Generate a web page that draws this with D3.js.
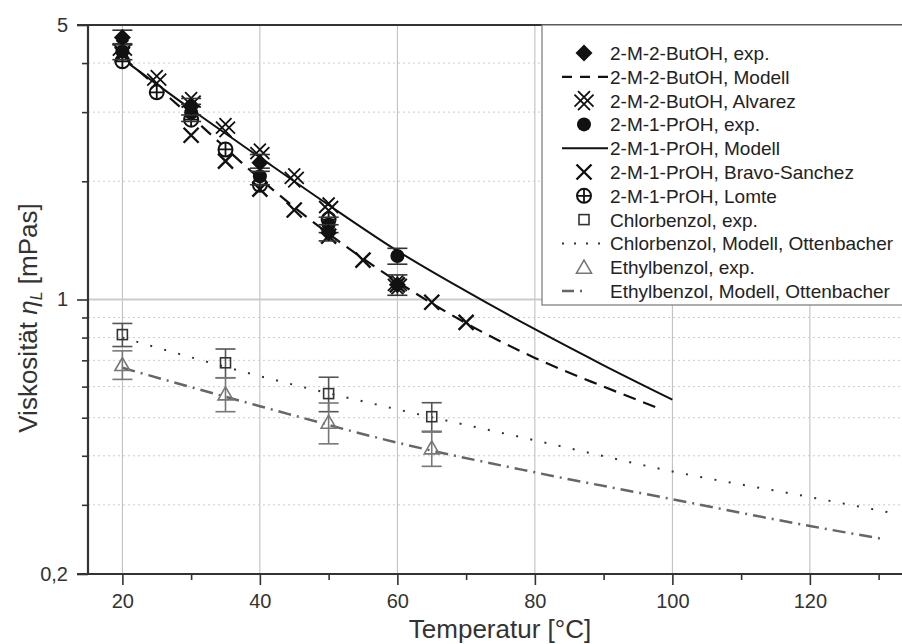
<!DOCTYPE html>
<html lang="de">
<head>
<meta charset="UTF-8">
<title>Viskosität</title>
<script src="https://d3js.org/d3.v7.min.js"></script>
<style>
  body { margin: 0; background: #fff; }
  svg { display: block; font-family: "Liberation Sans", Arial, sans-serif; }
  .axis path { display: none; }
  .axis line { stroke: #333; stroke-width: 1.6px; }
  .axis text { font-size: 20px; fill: #333; font-family: "Liberation Sans", Arial, sans-serif; }
</style>
</head>
<body>
<svg width="902" height="644"></svg>
<script>
// model curves (temperature in °C, viscosity in mPas)
const butModellT = [20, 30, 40, 50, 60, 70, 80, 90, 97.7];
const butModellV = [4.15, 2.92, 2.03, 1.47, 1.11, 0.87, 0.71, 0.60, 0.531];
const prModellT = [20, 30, 40, 50, 60, 70, 80, 90, 100];
const prModellV = [4.1, 3.05, 2.3, 1.74, 1.33, 1.05, 0.84, 0.68, 0.556];
const chlorModellT = [20, 40, 60, 80, 100, 120, 132];
const chlorModellV = [0.80, 0.638, 0.525, 0.438, 0.365, 0.314, 0.286];
const ethylModellT = [20, 40, 60, 80, 100, 120, 131];
const ethylModellV = [0.67, 0.535, 0.432, 0.363, 0.31, 0.265, 0.245];

// measurements
const butExpT = [20, 30, 40, 50, 60];
const butExpV = [4.65, 3.10, 2.23, 1.48, 1.09];
const butExpErr = [0.2, 0.15, 0.11, 0.07, 0.065];
const alvarezT = [20, 25, 30, 35, 40, 45, 50, 60];
const alvarezV = [4.33, 3.63, 3.19, 2.74, 2.36, 2.04, 1.72, 1.09];
const prExpT = [20, 30, 40, 50, 60];
const prExpV = [4.28, 2.99, 2.06, 1.55, 1.29];
const prExpErr = [0.2, 0.15, 0.1, 0.07, 0.06];
const bravoT = [20, 30, 35, 40, 45, 50, 55, 60, 65, 70];
const bravoV = [4.21, 2.62, 2.25, 1.91, 1.69, 1.45, 1.26, 1.09, 0.984, 0.874];
const lomteT = [20, 25, 30, 35, 40, 50];
const lomteV = [4.04, 3.37, 2.87, 2.41, 1.96, 1.60];
const chlorExpT = [20, 35, 50, 65];
const chlorExpV = [0.814, 0.690, 0.576, 0.503];
const chlorExpErr = [0.055, 0.058, 0.058, 0.043];
const ethylExpT = [20, 35, 50, 65];
const ethylExpV = [0.683, 0.575, 0.487, 0.419];
const ethylExpErr = [0.057, 0.057, 0.058, 0.043];

const xMajor = [20, 40, 60, 80, 100, 120];
const xMinor = [30, 50, 70, 90, 110, 130];
const yMajor = [0.2, 1, 5];
const yMinor = [0.3, 0.4, 0.5, 0.6, 0.7, 0.8, 0.9, 2, 3, 4];

const legendLabels = [
  "2-M-2-ButOH, exp.", "2-M-2-ButOH, Modell", "2-M-2-ButOH, Alvarez",
  "2-M-1-PrOH, exp.", "2-M-1-PrOH, Modell", "2-M-1-PrOH, Bravo-Sanchez",
  "2-M-1-PrOH, Lomte", "Chlorbenzol, exp.", "Chlorbenzol, Modell, Ottenbacher",
  "Ethylbenzol, exp.", "Ethylbenzol, Modell, Ottenbacher"
];
const legendKinds = ["diamond", "dash", "alvarez", "circle", "solid", "cross", "lomte",
  "square", "dot", "triangle", "dashdot"];

const svg = d3.select("svg");
const pLeft = 88, pRight = 902, pTop = 25, pBottom = 574;

const x = d3.scaleLinear().domain([15, 133.4]).range([pLeft, pRight]);
const y = d3.scaleLog().domain([0.2, 5]).range([pBottom, pTop]);

const zip = (a, b, e) => a.map((t, i) => ({t: t, v: b[i], e: e ? e[i] : 0}));

// grid
const grid = svg.append("g");
grid.selectAll(".vg").data(xMajor).enter().append("line")
  .attr("x1", d => x(d)).attr("x2", d => x(d)).attr("y1", pTop).attr("y2", pBottom)
  .attr("stroke", "#bbb").attr("stroke-width", 1);
grid.selectAll(".hg").data(yMinor).enter().append("line")
  .attr("x1", pLeft).attr("x2", pRight).attr("y1", d => y(d)).attr("y2", d => y(d))
  .attr("stroke", "#ccc").attr("stroke-width", 1).attr("stroke-dasharray", "2,3");
grid.append("line")
  .attr("x1", pLeft).attr("x2", pRight).attr("y1", y(1)).attr("y2", y(1))
  .attr("stroke", "#ccc").attr("stroke-width", 2);

// lines
const lineGen = d3.line().x(d => x(d.t)).y(d => y(d.v)).curve(d3.curveMonotoneX);
const styles = {
  dash: {stroke: "#111", width: 2.2, dash: "13,8"},
  solid: {stroke: "#111", width: 2, dash: null},
  dot: {stroke: "#333", width: 2, dash: "2,12.5"},
  dashdot: {stroke: "#666", width: 2.5, dash: "13,6,2,6"}
};
function curve(T, V, kind) {
  const s = styles[kind];
  svg.append("path").datum(zip(T, V)).attr("d", lineGen)
    .attr("fill", "none").attr("stroke", s.stroke).attr("stroke-width", s.width)
    .attr("stroke-dasharray", s.dash);
}
curve(chlorModellT, chlorModellV, "dot");
curve(ethylModellT, ethylModellV, "dashdot");
curve(butModellT, butModellV, "dash");
curve(prModellT, prModellV, "solid");

// markers
function marker(g, kind, cx, cy) {
  if (kind === "diamond") {
    g.append("path").attr("d", `M${cx},${cy - 8.5}L${cx + 8.5},${cy}L${cx},${cy + 8.5}L${cx - 8.5},${cy}Z`)
      .attr("fill", "#111");
  } else if (kind === "circle") {
    g.append("circle").attr("cx", cx).attr("cy", cy).attr("r", 7).attr("fill", "#111");
  } else if (kind === "cross") {
    g.append("path").attr("d", `M${cx - 7.5},${cy - 7.5}L${cx + 7.5},${cy + 7.5}M${cx - 7.5},${cy + 7.5}L${cx + 7.5},${cy - 7.5}`)
      .attr("stroke", "#111").attr("stroke-width", 2.4).attr("fill", "none");
  } else if (kind === "alvarez") {
    let d = "";
    [[-3.5, 0], [3.5, 0], [0, -3.5], [0, 3.5]].forEach(o => {
      const a = cx + o[0], b = cy + o[1];
      d += `M${a - 6},${b - 6}L${a + 6},${b + 6}M${a - 6},${b + 6}L${a + 6},${b - 6}`;
    });
    g.append("path").attr("d", d).attr("stroke", "#111").attr("stroke-width", 1.8).attr("fill", "none");
  } else if (kind === "lomte") {
    g.append("circle").attr("cx", cx).attr("cy", cy).attr("r", 7)
      .attr("fill", "#fff").attr("stroke", "#111").attr("stroke-width", 2);
    g.append("path").attr("d", `M${cx - 7},${cy}H${cx + 7}M${cx},${cy - 7}V${cy + 7}`)
      .attr("stroke", "#111").attr("stroke-width", 1.8);
  } else if (kind === "square") {
    g.append("rect").attr("x", cx - 5).attr("y", cy - 5).attr("width", 10).attr("height", 10)
      .attr("fill", "none").attr("stroke", "#333").attr("stroke-width", 1.6);
  } else if (kind === "triangle") {
    g.append("path").attr("d", `M${cx},${cy - 7}L${cx + 7.5},${cy + 6}L${cx - 7.5},${cy + 6}Z`)
      .attr("fill", "none").attr("stroke", "#777").attr("stroke-width", 1.6);
  }
}

function errorBars(data, color) {
  const g = svg.append("g").attr("stroke", color).attr("stroke-width", 1.6);
  data.forEach(d => {
    const y0 = y(d.v - d.e), y1 = y(d.v + d.e), cx = x(d.t);
    g.append("line").attr("x1", cx).attr("x2", cx).attr("y1", y0).attr("y2", y1);
    g.append("line").attr("x1", cx - 10).attr("x2", cx + 10).attr("y1", y0).attr("y2", y0);
    g.append("line").attr("x1", cx - 10).attr("x2", cx + 10).attr("y1", y1).attr("y2", y1);
  });
}

function series(T, V, E, kind, errColor) {
  const data = zip(T, V, E);
  if (E) errorBars(data, errColor);
  const g = svg.append("g");
  data.forEach(d => marker(g, kind, x(d.t), y(d.v)));
}
series(chlorExpT, chlorExpV, chlorExpErr, "square", "#555");
series(ethylExpT, ethylExpV, ethylExpErr, "triangle", "#777");
series(lomteT, lomteV, null, "lomte");
series(bravoT, bravoV, null, "cross");
series(alvarezT, alvarezV, null, "alvarez");
series(prExpT, prExpV, prExpErr, "circle", "#333");
series(butExpT, butExpV, butExpErr, "diamond", "#333");

// axes
const ax = svg.append("g");
ax.append("g").attr("class", "axis").attr("transform", `translate(0,${pBottom})`)
  .call(d3.axisBottom(x).tickValues(xMajor).tickSize(11).tickPadding(9));
ax.append("g").attr("class", "axis").attr("transform", `translate(0,${pBottom})`)
  .call(d3.axisBottom(x).tickValues(xMinor).tickSize(6).tickFormat(""));
ax.append("g").attr("class", "axis").attr("transform", `translate(${pLeft},0)`)
  .call(d3.axisLeft(y).tickValues(yMajor).tickSize(11).tickPadding(9)
    .tickFormat(d => String(d).replace(".", ",")));
ax.append("g").attr("class", "axis").attr("transform", `translate(${pLeft},0)`)
  .call(d3.axisLeft(y).tickValues(yMinor).tickSize(6).tickFormat(""));

// frame
svg.append("path").attr("d", `M${pLeft},${pTop}V${pBottom}M${pLeft - 11},${pBottom}H${pRight}M${pLeft - 11},${pTop}H${pRight}`)
  .attr("fill", "none").attr("stroke", "#333").attr("stroke-width", 2.2);

// legend
const lg = svg.append("g");
lg.append("rect").attr("x", 542).attr("y", pTop).attr("width", 400).attr("height", 280)
  .attr("fill", "#fff").attr("stroke", "#777").attr("stroke-width", 1.2);
legendLabels.forEach((label, i) => {
  const ly = 53 + i * 23.8;
  const kind = legendKinds[i];
  if (styles[kind]) {
    const s = styles[kind];
    lg.append("line").attr("x1", 562).attr("x2", 608).attr("y1", ly).attr("y2", ly)
      .attr("stroke", s.stroke).attr("stroke-width", s.width)
      .attr("stroke-dasharray", kind === "dash" ? "10,8" : kind === "dot" ? "2,10" : kind === "dashdot" ? "12,6,2,60" : null);
  } else {
    marker(lg, kind, 584, ly);
  }
  lg.append("text").attr("x", 610).attr("y", ly + 7)
    .attr("font-size", 19).attr("fill", "#222").text(label);
});

// axis titles
svg.append("text").attr("x", 500).attr("y", 638).attr("text-anchor", "middle")
  .attr("font-size", 26).attr("fill", "#333").text("Temperatur [°C]");
const yt = svg.append("text").attr("transform", "translate(37,318) rotate(-90)")
  .attr("text-anchor", "middle").attr("font-size", 26).attr("fill", "#333");
yt.append("tspan").text("Viskosität ");
yt.append("tspan").attr("font-style", "italic").text("η");
yt.append("tspan").attr("font-style", "italic").attr("font-size", 16).attr("dy", 5).text("L");
yt.append("tspan").attr("dy", -5).text(" [mPas]");
</script>
</body>
</html>
